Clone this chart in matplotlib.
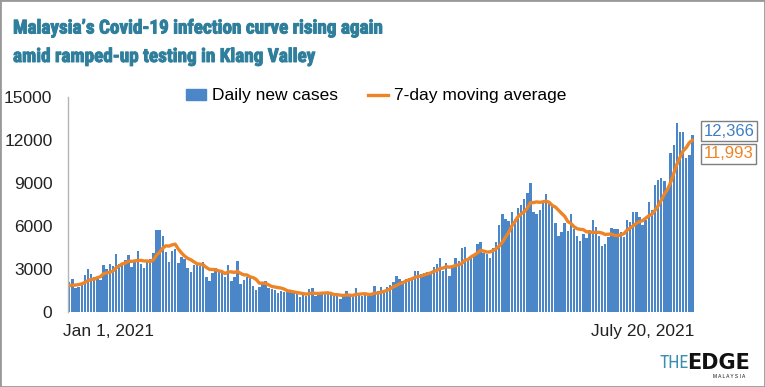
import numpy as np
import matplotlib
matplotlib.use('Agg')
import matplotlib.pyplot as plt
import matplotlib.patheffects as pe
from matplotlib.patches import Rectangle, Patch
from matplotlib.lines import Line2D

# daily new cases, Jan 1 - Jul 20 2021
daily_cases = [
    2068, 2295, 1704, 1741, 1870, 2593, 3027, 2643, 2451, 2433, 2232, 3309, 2985, 3337, 3211, 4029,
    3346, 3306, 3631, 4008, 3170, 3471, 4275, 3346, 3048, 3585, 3680, 4094, 5725, 5728, 5298,
    4214, 3455, 4284, 4410, 3391, 3847, 3731, 3100, 2764, 3288, 3397, 3231, 3499, 2464, 2176, 2720,
    3040, 2936, 2950, 2461, 3297, 2192, 2468, 3545, 1924, 2253, 2437, 2364,
    1828, 1555, 1745, 1919, 2154, 1660, 1610, 1540, 1310, 1490, 1420, 1370, 1370, 1310, 1260, 1070,
    1210, 1140, 1590, 1680, 1140, 1190, 1260, 1260, 1260, 1260, 1140, 1100, 941, 1140, 1490,
    1140, 1140, 1660, 1190, 1100, 1190, 1140, 1180, 1830, 1490, 1720, 1490, 1720, 1890, 2120,
    2540, 2310, 2190, 2310, 2360, 2380, 2875, 2847, 2660, 2730, 2770, 2820, 3142, 3332, 3788,
    2881, 3418, 2500, 3120, 3744, 3551, 4498, 4519, 3733, 3807, 3973, 4765, 4855, 4113, 4050, 3780,
    4446, 4865, 6075, 6806, 6500, 6320, 6976, 6509, 7289, 7478, 7857, 8290, 9020, 6999, 6824,
    7105, 7703, 8209, 7748, 7452, 6241, 5271, 5566, 6239, 5671, 6849, 5793, 5304, 4949, 5419,
    5150, 5738, 6440, 5911, 5293, 4611, 4743, 5244, 5841, 5803, 5803, 5586, 5218, 6437, 6276,
    6982, 6988, 6658, 6045, 6387, 7654, 7097, 8868, 9180, 9353, 9105, 8574, 11079, 11618, 13215,
    12541, 12528, 10710, 10972, 12366,
]

moving_avg = [
    1840, 1870, 1880, 1910, 1960, 2060, 2185, 2268, 2290, 2394, 2464, 2670, 2726, 2770, 2851, 3077,
    3207, 3360, 3406, 3553, 3529, 3566, 3601, 3601, 3564, 3558, 3511, 3643, 3965, 4172, 4451,
    4618, 4599, 4685, 4731, 4397, 4128, 3905, 3745, 3647, 3504, 3360, 3337, 3287, 3106, 2974, 2968,
    2932, 2867, 2826, 2678, 2797, 2799, 2763, 2836, 2691, 2591, 2588, 2455,
    2403, 2272, 2015, 2014, 2000, 1889, 1782, 1740, 1705, 1669, 1598, 1486, 1444, 1401, 1361, 1327,
    1287, 1247, 1279, 1323, 1299, 1289, 1316, 1323, 1340, 1293, 1216, 1210, 1174, 1157, 1190,
    1173, 1156, 1230, 1243, 1266, 1273, 1223, 1229, 1327, 1303, 1379, 1434, 1510, 1617, 1751,
    1853, 1970, 2037, 2154, 2246, 2316, 2424, 2467, 2517, 2595, 2660, 2726, 2835, 2900, 3035,
    3066, 3164, 3126, 3169, 3255, 3286, 3387, 3621, 3666, 3853, 3975, 4121, 4307, 4252, 4185, 4192,
    4283, 4411, 4598, 4876, 5217, 5542, 5998, 6293, 6639, 6840, 6990, 7246, 7631, 7635, 7680,
    7653, 7685, 7736, 7658, 7434, 7326, 7104, 6884, 6675, 6313, 6184, 5947, 5813, 5767, 5746,
    5591, 5600, 5542, 5559, 5557, 5509, 5412, 5426, 5440, 5349, 5334, 5376, 5463, 5705, 5852,
    6015, 6184, 6306, 6372, 6539, 6713, 6830, 7100, 7413, 7798, 8235, 8547, 9037, 9682, 10303,
    10784, 11237, 11466, 11809, 11993,
]

y_ticks = [0, 3000, 6000, 9000, 12000, 15000]
start_label = 'Jan 1, 2021'
end_label = 'July 20, 2021'

blue = '#4a86c8'
orange = '#ee8425'
teal = '#2f7f9c'
narrow = ['Liberation Sans Narrow', 'Roboto Condensed', 'DejaVu Sans Condensed', 'Liberation Sans']
plt.rcParams['font.family'] = ['Liberation Sans', 'DejaVu Sans']

x = np.arange(len(daily_cases))

fig = plt.figure(figsize=(7.65, 3.87), dpi=100)
ax = fig.add_axes([67.7 / 765, 75 / 387, (694 - 67.7) / 765, (312 - 97) / 387])

ax.bar(x, daily_cases, width=0.78, color=blue, linewidth=0)
ax.plot(x, moving_avg, color=orange, lw=2.4, solid_capstyle='round')

ax.set_xlim(-0.5, len(x) - 0.5)
ax.set_ylim(0, 15000)
ax.set_yticks(y_ticks)
ax.set_xticks([])
ax.tick_params(axis='y', length=0, pad=11, labelsize=12.5, labelcolor='#222222')
for s in ['top', 'right', 'bottom']:
    ax.spines[s].set_visible(False)
ax.spines['left'].set_color('#b5b5b5')
ax.spines['left'].set_linewidth(1)

tr = ax.get_xaxis_transform()
ax.text(-2, -0.093, start_label, transform=tr, ha='left', va='center', fontsize=12.5, color='#222222')
ax.text(len(x) - 0.5, -0.093, end_label, transform=tr, ha='right', va='center', fontsize=12.5, color='#222222')

handles = [Patch(color=blue, label='Daily new cases'),
           Line2D([], [], color=orange, lw=2.4, label='7-day moving average')]
ax.legend(handles=handles, ncol=2, loc='center', bbox_to_anchor=(0.492, 0.752),
          bbox_transform=fig.transFigure, frameon=False, fontsize=12.5,
          handlelength=1.15, handleheight=0.6, handletextpad=0.35, columnspacing=1.7)

# end-of-series labels
ax.annotate(f'{daily_cases[-1]:,}', xy=(x[-1], daily_cases[-1]), xytext=(8, 2.5),
            textcoords='offset points', ha='left', va='center', fontsize=12, color='#3f7fc4',
            annotation_clip=False,
            bbox=dict(boxstyle='square,pad=0.16', fc='white', ec='#7f7f7f', lw=1))
ax.annotate(f'{moving_avg[-1]:,}', xy=(x[-1], moving_avg[-1]), xytext=(8, -10),
            textcoords='offset points', ha='left', va='center', fontsize=12, color=orange,
            annotation_clip=False,
            bbox=dict(boxstyle='square,pad=0.16', fc='white', ec='#7f7f7f', lw=1))

bold_fx = [pe.withStroke(linewidth=0.7, foreground=teal)]
fig.text(13 / 765, 1 - 33.5 / 387, "Malaysia\u2019s Covid-19 infection curve rising again",
         family=narrow, fontweight='bold', fontsize=13.8, color=teal, va='baseline',
         path_effects=bold_fx)
fig.text(13 / 765, 1 - 62 / 387, "amid ramped-up testing in Klang Valley",
         family=narrow, fontweight='bold', fontsize=13.8, color=teal, va='baseline',
         path_effects=bold_fx)

# logo
fig.text(659 / 765, 1 - 363 / 387, 'THE', family=narrow, fontsize=13, color='#3b8fae', va='center')
fig.text(687 / 765, 1 - 363 / 387, 'EDGE', family=['DejaVu Sans'], fontweight='bold', fontsize=15,
         color='#111111', va='center')
fig.text(729 / 765, 1 - 376 / 387, 'M A L A Y S I A', fontsize=3.5, color='#111111',
         ha='center', va='center')

fig.patches.append(Rectangle((0, 0), 1, 1, transform=fig.transFigure, fill=False,
                             ec='#999999', lw=2))

plt.savefig('out.png', dpi=100)
